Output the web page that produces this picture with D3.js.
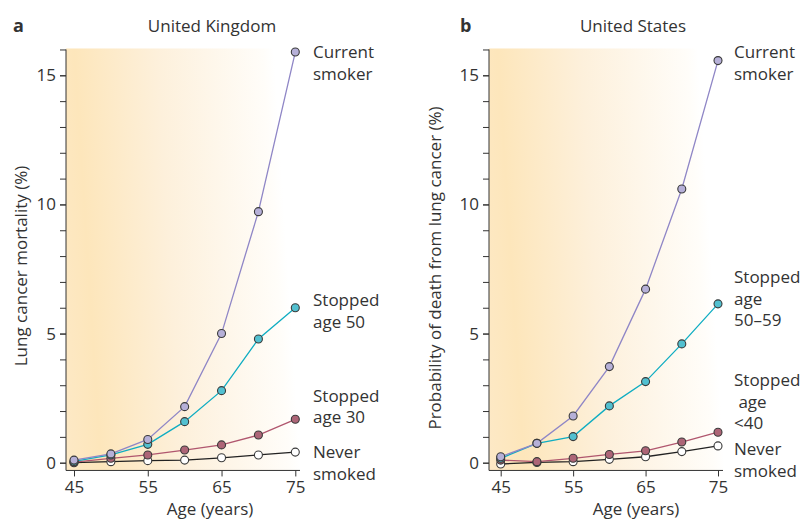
<!DOCTYPE html>
<html>
<head>
<meta charset="utf-8">
<script src="https://cdn.jsdelivr.net/npm/d3@7"></script>
<style>
  body { margin: 0; background: #fff; }
  svg text { font-family: "Open Sans", "Noto Sans", sans-serif; fill: #333; }
</style>
</head>
<body>
<svg id="chart" width="808" height="520"></svg>
<script>
var ages = [45, 50, 55, 60, 65, 70, 75];
var xTickLabels = [45, 55, 65, 75];
var yTickLabels = [0, 5, 10, 15];

// United Kingdom
var ukCurrent = [0.1, 0.34, 0.9, 2.17, 5.0, 9.72, 15.9];
var ukStopped50 = [0.05, 0.3, 0.71, 1.59, 2.79, 4.79, 6.0];
var ukStopped30 = [0.02, 0.17, 0.3, 0.49, 0.69, 1.07, 1.68];
var ukNever = [0.0, 0.04, 0.08, 0.1, 0.19, 0.3, 0.41];

// United States
var usCurrent = [0.23, 0.75, 1.81, 3.72, 6.72, 10.6, 15.57];
var usStopped5059 = [0.17, 0.75, 1.01, 2.2, 3.14, 4.6, 6.15];
var usStopped40 = [0.1, 0.04, 0.17, 0.32, 0.46, 0.8, 1.18];
var usNever = [-0.05, 0.01, 0.04, 0.13, 0.23, 0.43, 0.65];

var colors = {
  current: { line: "#8f86c6", fill: "#b6b0d8" },
  stoppedLate: { line: "#0fadc2", fill: "#52c0d0" },
  stoppedEarly: { line: "#b0566e", fill: "#ad6577" },
  never: { line: "#222", fill: "#fff" }
};

var svg = d3.select("#chart");
var defs = svg.append("defs");

function drawPanel(p) {
  var g = svg.append("g");
  var x = d3.scaleLinear().domain([45, 75]).range([p.x45, p.x75]);
  var y = d3.scaleLinear().domain([0, 15]).range([462.7, 75.3]);
  var yBottom = y(-0.3), yTop = y(16);

  // background wash, strongest bottom-left
  var grad = defs.append("linearGradient").attr("id", "bg" + p.letter)
    .attr("gradientUnits", "userSpaceOnUse")
    .attr("x1", p.axisX).attr("y1", yBottom).attr("x2", p.areaRight).attr("y2", yBottom - 15);
  grad.append("stop").attr("offset", "0").attr("stop-color", "#fde9c6");
  grad.append("stop").attr("offset", "0.15").attr("stop-color", "#fde6bb");
  grad.append("stop").attr("offset", "0.5").attr("stop-color", "#fdf0db");
  grad.append("stop").attr("offset", "0.95").attr("stop-color", "#fffdf9");
  grad.append("stop").attr("offset", "1").attr("stop-color", "#ffffff");

  g.append("rect")
    .attr("x", p.axisX).attr("y", yTop - 1)
    .attr("width", p.areaRight - p.axisX).attr("height", yBottom - yTop + 1)
    .attr("fill", "url(#bg" + p.letter + ")");

  // y axis: minor ticks then labelled ticks
  var yAxisMinor = d3.axisLeft(y).tickValues(d3.range(0, 17)).tickSize(6).tickFormat("");
  var yAxis = d3.axisLeft(y).tickValues(yTickLabels).tickSize(6).tickPadding(4);
  [yAxisMinor, yAxis].forEach(function (ax) {
    var a = g.append("g").attr("transform", "translate(" + p.axisX + ",0)").call(ax);
    a.select(".domain").remove();
    a.selectAll("line").attr("stroke", "#333");
    a.selectAll("text").style("font-size", "17px").attr("fill", "#333");
  });
  g.append("line").attr("x1", p.axisX).attr("x2", p.axisX).attr("y1", yTop).attr("y2", yBottom)
    .attr("stroke", "#333");

  var xAxis = d3.axisBottom(x).tickValues(xTickLabels).tickSize(6).tickPadding(4);
  var xa = g.append("g").attr("transform", "translate(0," + yBottom + ")").call(xAxis);
  xa.select(".domain").remove();
  xa.selectAll("line").attr("stroke", "#333");
  xa.selectAll("text").style("font-size", "17px").attr("fill", "#333");
  g.append("line").attr("x1", p.axisX).attr("x2", p.axisRight).attr("y1", yBottom).attr("y2", yBottom)
    .attr("stroke", "#333");

  var line = d3.line().x(function (d) { return x(d[0]); }).y(function (d) { return y(d[1]); });
  p.series.forEach(function (s) {
    var pts = ages.map(function (a, i) { return [a, s.values[i]]; });
    g.append("path").datum(pts).attr("d", line)
      .attr("fill", "none").attr("stroke", s.color.line).attr("stroke-width", 1.3);
  });
  p.series.forEach(function (s) {
    var pts = ages.map(function (a, i) { return [a, s.values[i]]; });
    g.selectAll(null).data(pts).enter().append("circle")
      .attr("cx", function (d) { return x(d[0]); })
      .attr("cy", function (d) { return y(d[1]); })
      .attr("r", 4)
      .attr("fill", s.color.fill).attr("stroke", "#3a3a3a").attr("stroke-width", 1.1);
  });

  // series labels
  p.labels.forEach(function (l) {
    var t = g.append("text").attr("x", p.labelX).attr("y", l.y).style("font-size", "17px");
    l.lines.forEach(function (txt, i) {
      t.append("tspan").attr("x", p.labelX).attr("dy", i === 0 ? 0 : 21.5).attr("xml:space", "preserve").text(txt);
    });
  });

  g.append("text").attr("x", p.titleX).attr("y", 32).attr("text-anchor", "middle")
    .style("font-size", "17px").text(p.title);
  g.append("text").attr("x", p.letterX).attr("y", 32)
    .style("font-size", "18px").style("font-weight", "bold").attr("fill", "#111").text(p.letter);
  g.append("text").attr("x", p.xTitleX).attr("y", 515).attr("text-anchor", "middle")
    .style("font-size", "17px").text("Age (years)");
  g.append("text").attr("transform", "translate(" + p.yTitleX + "," + p.yTitleY + ") rotate(-90)")
    .attr("text-anchor", "middle").style("font-size", "17px").text(p.yTitle);
}

drawPanel({
  letter: "a", letterX: 13, title: "United Kingdom", titleX: 212,
  x45: 74, x75: 295.3, axisX: 66, axisRight: 300, areaRight: 300,
  labelX: 313, xTitleX: 210, yTitleX: 27, yTitleY: 266,
  yTitle: "Lung cancer mortality (%)",
  series: [
    { values: ukNever, color: colors.never },
    { values: ukStopped30, color: colors.stoppedEarly },
    { values: ukStopped50, color: colors.stoppedLate },
    { values: ukCurrent, color: colors.current }
  ],
  labels: [
    { y: 58, lines: ["Current", "smoker"] },
    { y: 306, lines: ["Stopped", "age 50"] },
    { y: 401.5, lines: ["Stopped", "age 30"] },
    { y: 458, lines: ["Never", "smoked"] }
  ]
});

drawPanel({
  letter: "b", letterX: 460, title: "United States", titleX: 633,
  x45: 500.7, x75: 718, axisX: 489, axisRight: 723, areaRight: 724,
  labelX: 734, xTitleX: 636, yTitleX: 441, yTitleY: 268,
  yTitle: "Probability of death from lung cancer (%)",
  series: [
    { values: usNever, color: colors.never },
    { values: usStopped40, color: colors.stoppedEarly },
    { values: usStopped5059, color: colors.stoppedLate },
    { values: usCurrent, color: colors.current }
  ],
  labels: [
    { y: 58, lines: ["Current", "smoker"] },
    { y: 283, lines: ["Stopped", "age", "50\u201359"] },
    { y: 386, lines: ["Stopped", " age", "<40"] },
    { y: 455, lines: ["Never", "smoked"] }
  ]
});
</script>
</body>
</html>
